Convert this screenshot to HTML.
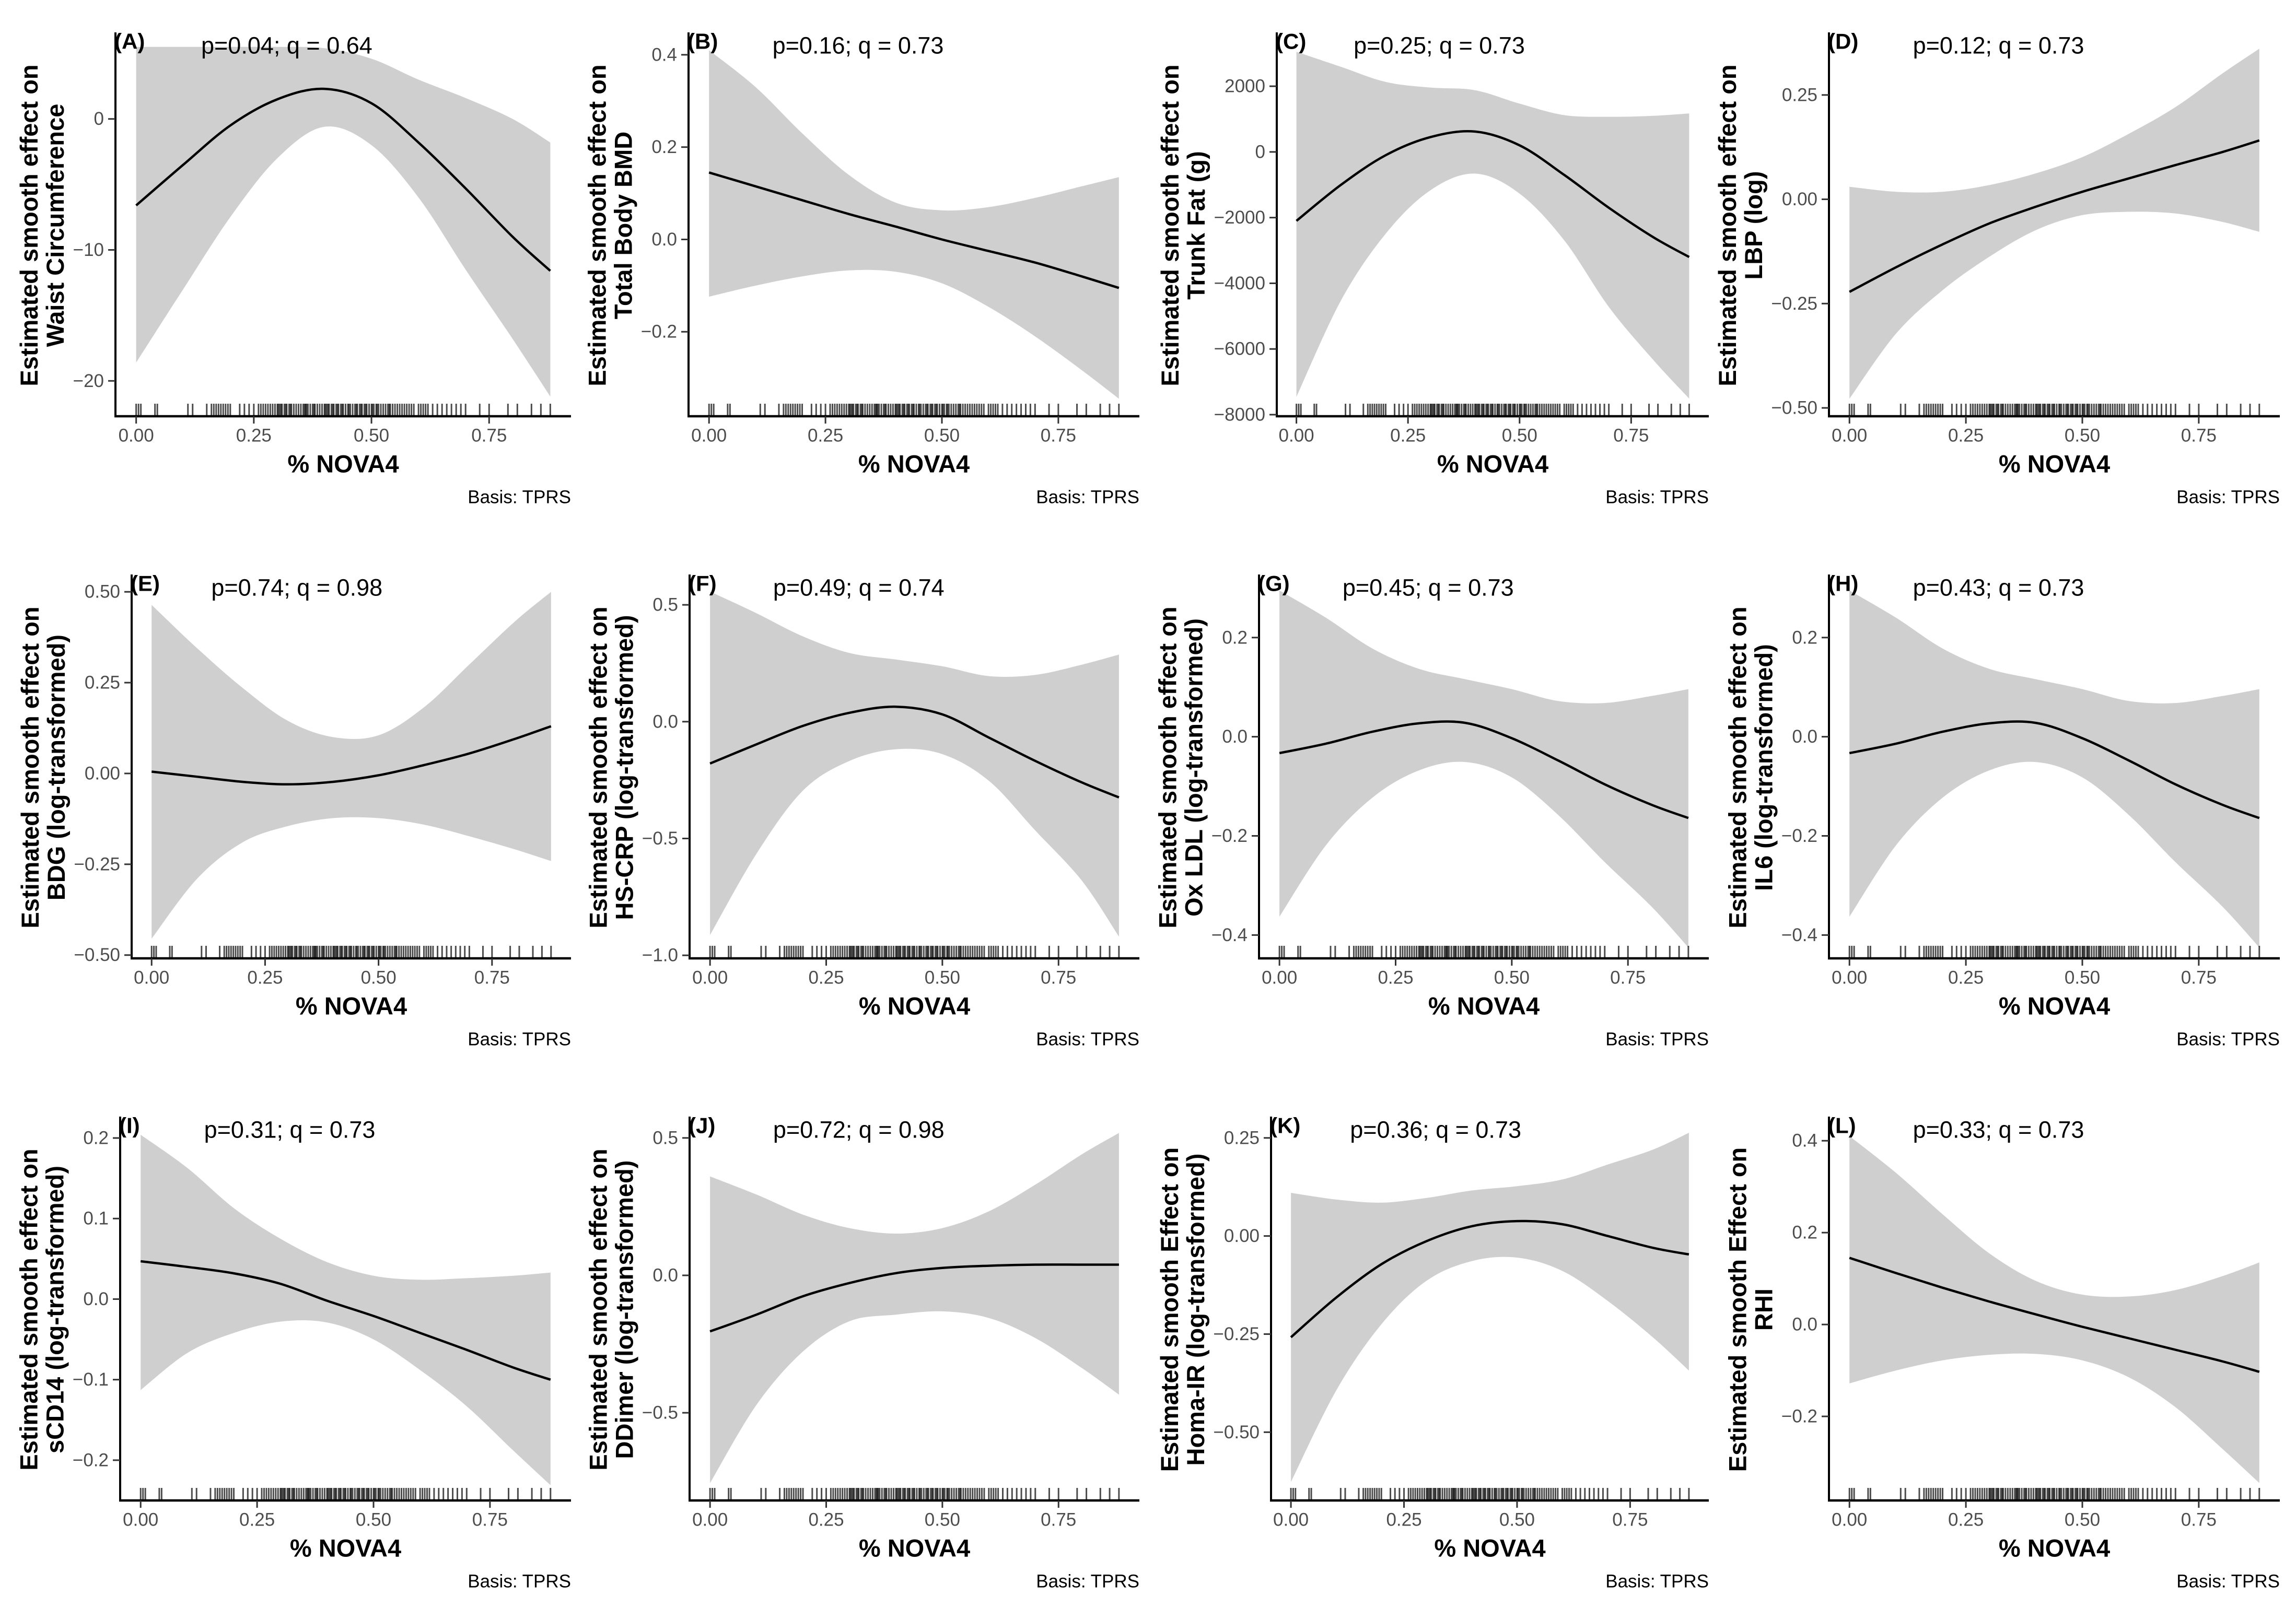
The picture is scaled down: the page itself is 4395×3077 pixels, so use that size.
<!DOCTYPE html>
<html><head><meta charset="utf-8"><style>
html,body{margin:0;padding:0;background:#fff}
svg{display:block;font-family:"Liberation Sans",Arial,sans-serif}
</style></head><body>
<svg id="chart" width="4395" height="3077" viewBox="0 0 4395 3077" xmlns="http://www.w3.org/2000/svg"></svg>
<script>
const xs = [0,0.1,0.2,0.3,0.4,0.5,0.6,0.7,0.8,0.88];
const xTicks = [0,0.25,0.5,0.75];
const xTickLabels = ["0.00","0.25","0.50","0.75"];
const rugX = [0.0,0.005,0.01,0.04,0.045,0.11,0.12,0.15,0.16,0.165,0.17,0.175,0.18,0.185,0.19,0.195,0.2,0.22,0.23,0.24,0.25,0.26,0.265,0.27,0.275,0.28,0.285,0.29,0.295,0.30,0.302,0.305,0.308,0.31,0.315,0.318,0.32,0.325,0.328,0.33,0.335,0.34,0.345,0.35,0.355,0.358,0.36,0.362,0.365,0.37,0.375,0.378,0.38,0.385,0.39,0.395,0.40,0.402,0.405,0.408,0.41,0.415,0.418,0.42,0.425,0.428,0.43,0.435,0.438,0.44,0.445,0.45,0.452,0.455,0.46,0.465,0.468,0.47,0.475,0.478,0.48,0.485,0.488,0.49,0.495,0.50,0.502,0.505,0.51,0.512,0.515,0.52,0.525,0.53,0.535,0.538,0.54,0.545,0.55,0.555,0.56,0.565,0.57,0.575,0.58,0.585,0.59,0.60,0.605,0.61,0.615,0.62,0.63,0.64,0.65,0.66,0.67,0.68,0.69,0.70,0.73,0.75,0.79,0.81,0.84,0.86,0.88];

const fitA=[-6.6,-3.5,-0.5,1.5,2.3,1.2,-1.8,-5.3,-9.0,-11.6];
const upA=[5.5,5.5,5.5,5.5,5.4,4.6,3.0,1.6,0.0,-1.8];
const loA=[-18.6,-13,-7.5,-3,-0.6,-2.0,-6.0,-11.5,-16.8,-21.2];
const ticksA=[-20,-10,0]; const labelsA=["\u221220","\u221210","0"];

const fitB=[0.145,0.115,0.085,0.055,0.028,0.0,-0.025,-0.05,-0.08,-0.105];
const upB=[0.41,0.33,0.23,0.14,0.08,0.063,0.07,0.09,0.115,0.135];
const loB=[-0.124,-0.1,-0.08,-0.067,-0.07,-0.095,-0.146,-0.21,-0.283,-0.345];
const ticksB=[-0.2,0,0.2,0.4]; const labelsB=["\u22120.2","0.0","0.2","0.4"];

const fitC=[-2100,-1000,-100,450,620,200,-700,-1700,-2600,-3200];
const upC=[3050,2590,2130,1960,1880,1470,1120,1070,1100,1170];
const loC=[-7460,-4520,-2490,-1170,-660,-1270,-2690,-4720,-6340,-7510];
const ticksC=[-8000,-6000,-4000,-2000,0,2000]; const labelsC=["\u22128000","\u22126000","\u22124000","\u22122000","0","2000"];

const fitD=[-0.222,-0.163,-0.108,-0.058,-0.018,0.018,0.05,0.082,0.113,0.141];
const upD=[0.03,0.018,0.018,0.034,0.062,0.101,0.157,0.221,0.301,0.361];
const loD=[-0.478,-0.322,-0.218,-0.138,-0.074,-0.038,-0.03,-0.034,-0.054,-0.078];
const ticksD=[-0.5,-0.25,0,0.25]; const labelsD=["\u22120.50","\u22120.25","0.00","0.25"];

const fitE=[0.005,-0.009,-0.023,-0.03,-0.023,-0.005,0.023,0.055,0.095,0.13];
const upE=[0.464,0.345,0.236,0.145,0.1,0.105,0.182,0.3,0.418,0.5];
const loE=[-0.455,-0.29,-0.19,-0.145,-0.123,-0.123,-0.141,-0.173,-0.209,-0.241];
const ticksE=[-0.5,-0.25,0,0.25,0.5]; const labelsE=["\u22120.50","\u22120.25","0.00","0.25","0.50"];

const fitF=[-0.179,-0.097,-0.018,0.038,0.064,0.031,-0.068,-0.168,-0.26,-0.324];
const upF=[0.557,0.464,0.365,0.294,0.266,0.237,0.195,0.2,0.244,0.287];
const loF=[-0.913,-0.565,-0.295,-0.168,-0.118,-0.139,-0.253,-0.466,-0.68,-0.92];
const ticksF=[-1,-0.5,0,0.5]; const labelsF=["\u22121.0","\u22120.5","0.0","0.5"];

const fitG=[-0.033,-0.014,0.01,0.027,0.028,-0.003,-0.048,-0.096,-0.137,-0.164];
const upG=[0.295,0.24,0.178,0.137,0.116,0.096,0.072,0.068,0.082,0.096];
const loG=[-0.363,-0.219,-0.123,-0.068,-0.051,-0.082,-0.158,-0.253,-0.342,-0.425];
const ticksG=[-0.4,-0.2,0,0.2]; const labelsG=["\u22120.4","\u22120.2","0.0","0.2"];

const fitH=[-0.033,-0.014,0.01,0.027,0.028,-0.003,-0.048,-0.096,-0.137,-0.164];
const upH=[0.295,0.24,0.178,0.137,0.116,0.096,0.072,0.068,0.082,0.096];
const loH=[-0.363,-0.219,-0.123,-0.068,-0.051,-0.082,-0.158,-0.253,-0.342,-0.425];
const ticksH=[-0.4,-0.2,0,0.2]; const labelsH=["\u22120.4","\u22120.2","0.0","0.2"];

const fitI=[0.047,0.04,0.032,0.019,-0.002,-0.021,-0.042,-0.063,-0.085,-0.1];
const upI=[0.204,0.163,0.113,0.075,0.046,0.029,0.024,0.026,0.029,0.033];
const loI=[-0.113,-0.067,-0.042,-0.028,-0.029,-0.05,-0.088,-0.133,-0.188,-0.231];
const ticksI=[-0.2,-0.1,0,0.1,0.2]; const labelsI=["\u22120.2","\u22120.1","0.0","0.1","0.2"];

const fitJ=[-0.204,-0.143,-0.076,-0.028,0.008,0.027,0.035,0.039,0.039,0.039];
const upJ=[0.36,0.294,0.221,0.172,0.152,0.172,0.233,0.33,0.44,0.518];
const loJ=[-0.756,-0.471,-0.277,-0.167,-0.143,-0.131,-0.155,-0.228,-0.337,-0.434];
const ticksJ=[-0.5,0,0.5]; const labelsJ=["\u22120.5","0.0","0.5"];

const fitK=[-0.258,-0.157,-0.072,-0.013,0.025,0.038,0.03,0.0,-0.03,-0.047];
const upK=[0.11,0.093,0.085,0.097,0.116,0.127,0.144,0.182,0.22,0.263];
const loK=[-0.627,-0.394,-0.225,-0.114,-0.064,-0.055,-0.089,-0.165,-0.258,-0.343];
const ticksK=[-0.5,-0.25,0,0.25]; const labelsK=["\u22120.50","\u22120.25","0.00","0.25"];

const fitL=[0.145,0.112,0.08,0.05,0.022,-0.005,-0.03,-0.055,-0.08,-0.103];
const upL=[0.41,0.33,0.24,0.155,0.095,0.065,0.061,0.075,0.105,0.135];
const loL=[-0.128,-0.1,-0.078,-0.066,-0.064,-0.078,-0.115,-0.18,-0.27,-0.345];
const ticksL=[-0.2,0,0.2,0.4]; const labelsL=["\u22120.2","0.0","0.2","0.4"];

const panelIds=["A","B","C","D","E","F","G","H","I","J","K","L"];
const pTexts=["p=0.04; q = 0.64","p=0.16; q = 0.73","p=0.25; q = 0.73","p=0.12; q = 0.73","p=0.74; q = 0.98","p=0.49; q = 0.74","p=0.45; q = 0.73","p=0.43; q = 0.73","p=0.31; q = 0.73","p=0.72; q = 0.98","p=0.36; q = 0.73","p=0.33; q = 0.73"];
const yTitle2=["Waist Circumference","Total Body BMD","Trunk Fat (g)","LBP (log)","BDG (log-transformed)","HS-CRP (log-transformed)","Ox LDL (log-transformed)","IL6 (log-transformed)","sCD14 (log-transformed)","DDimer (log-transformed)","Homa-IR (log-transformed)","RHI"];
const yTitle1=["Estimated smooth effect on","Estimated smooth effect on","Estimated smooth effect on","Estimated smooth effect on","Estimated smooth effect on","Estimated smooth effect on","Estimated smooth effect on","Estimated smooth effect on","Estimated smooth effect on","Estimated smooth effect on","Estimated smooth Effect on","Estimated smooth Effect on"];
const yMin=[-22.7,-0.383,-8048,-0.52,-0.509,-1.013,-0.447,-0.447,-0.25,-0.819,-0.674,-0.383];
const yMax=[6.45,0.444,3576,0.395,0.542,0.621,0.323,0.323,0.224,0.570,0.299,0.448];

const fits=[fitA,fitB,fitC,fitD,fitE,fitF,fitG,fitH,fitI,fitJ,fitK,fitL];
const ups=[upA,upB,upC,upD,upE,upF,upG,upH,upI,upJ,upK,upL];
const los=[loA,loB,loC,loD,loE,loF,loG,loH,loI,loJ,loK,loL];
const tickSets=[ticksA,ticksB,ticksC,ticksD,ticksE,ticksF,ticksG,ticksH,ticksI,ticksJ,ticksK,ticksL];
const labelSets=[labelsA,labelsB,labelsC,labelsD,labelsE,labelsF,labelsG,labelsH,labelsI,labelsJ,labelsK,labelsL];

// layout (pixels)
const axisXs=[221,1318,2444,3501,252,1320,2410,3501,230,1320,2433,3501];
const rightXs=[1093,2181,3271,4364];
const rowTop=[66,1104,2142];
const plotH=731;
const XMIN=-0.044, XMAX=0.924;

const NS="http://www.w3.org/2000/svg";
const svg=document.getElementById("chart");
function mk(tag,attrs,parent){const e=document.createElementNS(NS,tag);for(const k in attrs)e.setAttribute(k,attrs[k]);(parent||svg).appendChild(e);return e;}

function smoothPath(pts){
  let d="M"+pts[0][0].toFixed(1)+","+pts[0][1].toFixed(1);
  for(let i=0;i<pts.length-1;i++){
    const p0=pts[Math.max(i-1,0)],p1=pts[i],p2=pts[i+1],p3=pts[Math.min(i+2,pts.length-1)];
    const c1=[p1[0]+(p2[0]-p0[0])/6,p1[1]+(p2[1]-p0[1])/6];
    const c2=[p2[0]-(p3[0]-p1[0])/6,p2[1]-(p3[1]-p1[1])/6];
    d+=" C"+c1[0].toFixed(1)+","+c1[1].toFixed(1)+" "+c2[0].toFixed(1)+","+c2[1].toFixed(1)+" "+p2[0].toFixed(1)+","+p2[1].toFixed(1);
  }
  return d;
}
function smoothCont(pts){return smoothPath(pts).replace(/^M/,"L");}

for(let p=0;p<12;p++){
  const row=Math.floor(p/4), col=p%4;
  const ax=axisXs[p], rx=rightXs[col], top=rowTop[row], bot=top+plotH;
  const xScale=v=>ax+(v-XMIN)/(XMAX-XMIN)*(rx-ax);
  const yScale=v=>bot-(v-yMin[p])/(yMax[p]-yMin[p])*plotH;
  const g=mk("g",{});
  
  

  const upPts=xs.map((x,i)=>[xScale(x),yScale(ups[p][i])]);
  const loPts=xs.map((x,i)=>[xScale(x),yScale(los[p][i])]).reverse();
  const band=mk("path",{d:smoothPath(upPts)+" "+smoothCont(loPts)+" Z",fill:"#cfcfcf",stroke:"none"},g);
  
  

  const fitPts=xs.map((x,i)=>[xScale(x),yScale(fits[p][i])]);
  const line=mk("path",{d:smoothPath(fitPts),fill:"none",stroke:"#000","stroke-width":4.5},g);
  
  

  const rug=mk("g",{},g);
  
  
  rugX.forEach(v=>{
    const r=mk("line",{x1:xScale(v),x2:xScale(v),y1:bot-24,y2:bot,stroke:"#000","stroke-width":3,"stroke-opacity":0.7},rug);
    
    
  });

  const ya=mk("line",{x1:ax,x2:ax,y1:top-4,y2:bot+2,stroke:"#000","stroke-width":4},g);
  
  
  const xa=mk("line",{x1:ax-2,x2:rx,y1:bot,y2:bot,stroke:"#000","stroke-width":4.5},g);
  
  

  let maxW=0;
  tickSets[p].forEach((v,i)=>{
    const y=yScale(v);
    const tk=mk("line",{x1:ax-14,x2:ax,y1:y,y2:y,stroke:"#333","stroke-width":3},g);
    
    
    const t=mk("text",{x:ax-22,y:y,"text-anchor":"end","dominant-baseline":"central","font-size":35,fill:"#4d4d4d"},g);
    t.textContent=labelSets[p][i];
    
    
    maxW=Math.max(maxW,t.getComputedTextLength());
  });
  xTicks.forEach((v,i)=>{
    const x=xScale(v);
    const tk=mk("line",{x1:x,x2:x,y1:bot,y2:bot+14,stroke:"#333","stroke-width":3},g);
    
    
    const t=mk("text",{x:x,y:bot+37,"text-anchor":"middle","dominant-baseline":"central","font-size":35,fill:"#4d4d4d"},g);
    t.textContent=xTickLabels[i];
    
    
  });
  const xt=mk("text",{x:(ax+rx)/2,y:bot+91,"text-anchor":"middle","dominant-baseline":"central","font-size":47,"font-weight":"bold",fill:"#000"},g);
  xt.textContent="% NOVA4";
  
  
  const cap=mk("text",{x:rx,y:bot+155,"text-anchor":"end","dominant-baseline":"central","font-size":35,fill:"#000"},g);
  cap.textContent="Basis: TPRS";
  
  

  const yc=(top+bot)/2;
  const x2=ax-22-maxW-34, x1=x2-50;
  const yt=mk("text",{"text-anchor":"middle","font-size":47,"font-weight":"bold",fill:"#000",transform:"translate("+x1+","+yc+") rotate(-90)"},g);
  
  
  const s1=mk("tspan",{x:0,y:0,"dominant-baseline":"central"},yt);
  s1.textContent=yTitle1[p];
  const s2=mk("tspan",{x:0,y:50,"dominant-baseline":"central"},yt);
  s2.textContent=yTitle2[p];

  const pl=mk("text",{x:ax-2,y:top+13,"dominant-baseline":"central","font-size":42,"font-weight":"bold",fill:"#000"},g);
  pl.textContent="("+panelIds[p]+")";
  
  
  const pt=mk("text",{x:xScale(0.32),y:top+21,"text-anchor":"middle","dominant-baseline":"central","font-size":45,fill:"#000"},g);
  pt.textContent=pTexts[p];
  
  
}
</script>
</body></html>
